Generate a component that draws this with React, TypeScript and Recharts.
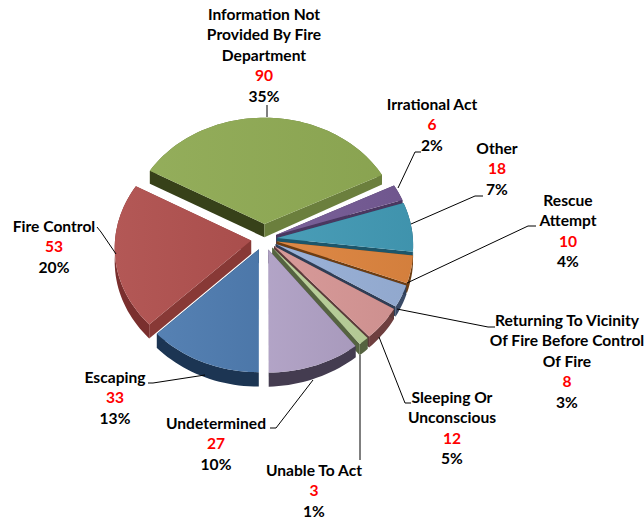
import { Pie, PieChart } from 'recharts';

const categories = [
  'Information Not Provided By Fire Department',
  'Irrational Act',
  'Other',
  'Rescue Attempt',
  'Returning To Vicinity Of Fire Before Control Of Fire',
  'Sleeping Or Unconscious',
  'Unable To Act',
  'Undetermined',
  'Escaping',
  'Fire Control',
];
const counts = [90, 6, 18, 10, 8, 12, 3, 27, 33, 53];
const percents = ['35%', '2%', '7%', '4%', '3%', '5%', '1%', '10%', '13%', '20%'];

const labelLines = [
  ['Information Not', 'Provided By Fire', 'Department'],
  ['Irrational Act'],
  ['Other'],
  ['Rescue', 'Attempt'],
  ['Returning To Vicinity', 'Of Fire Before Control', 'Of Fire'],
  ['Sleeping Or', 'Unconscious'],
  ['Unable To Act'],
  ['Undetermined'],
  ['Escaping'],
  ['Fire Control'],
];

const topColors = ['#8FAA54', '#745A94', '#4299B4', '#DC843F', '#97AFD6', '#D69695', '#BAD09A', '#AFA0C4', '#4F7CB0', '#B0514F'];
const startWallColors = ['#374119', '#4A3760', '#1D566A', '#6D3D12', '#2F3D55', '#5C3A3A', '#556340', '#443C50', '#1C3553', '#883936'];
const endWallColors = ['#6B7F3D', '#4A3760', '#1D566A', '#6D3D12', '#2F3D55', '#5C3A3A', '#556340', '#443C50', '#1C3553', '#883936'];
const outerWallColors = ['#6B7F3D', '#4A3760', '#1D566A', '#6D3D12', '#3A4A66', '#6E3F3F', '#556340', '#443C50', '#1C3553', '#7A2F2E'];
const explode = [18, 13, 13, 13, 13, 13, 13, 13, 13, 13];

// label block: centre x, first line y, then leader polyline
const labelX = [264, 432, 497, 568, 567, 452, 314, 216, 115, 54];
const labelY = [20, 110, 154, 206, 326, 403, 476, 429, 383, 232];
const leaders = [
  '267,105 267,117',
  '421,152 415,152 398,188',
  '483,196 475,196 411,224',
  '536,226 528,226 407,283',
  '495,327 488,327 397,309',
  '411,403 405,403 379,337',
  '360,460 360,355',
  '270,428 276,428 313,380',
  '148,383 153,383 205,375',
  '97,227 101,232 116,254',
];

const CX = 264;
const CY = 239;
const TILT = 0.845;
const PERSPECTIVE = 0.06;
const DEPTH = 13.5;

const tableData = categories.map((name, i) => ({ name, value: counts[i] }));

type Pt = [number, number];

function Slice3D(props: any) {
  const { cx, cy, outerRadius: r, startAngle, endAngle, index } = props;
  const RAD = Math.PI / 180;
  const mid = ((startAngle + endAngle) / 2) * RAD;
  const ox = Math.cos(mid) * explode[index];
  const oy = -Math.sin(mid) * explode[index];
  const project = (u: number, v: number, z: number): Pt => {
    const s = 1 + (PERSPECTIVE * (v + oy)) / r;
    // side walls get thinner towards the right of the pie
    const thin = 1 - (0.3 * Math.max(0, u + ox)) / r;
    return [cx + (u + ox) * s, cy + (v + oy) * TILT * s + z * s * thin];
  };
  const steps = Math.max(4, Math.ceil(Math.abs(endAngle - startAngle) / 2));
  const arc = (z: number) => {
    const pts: Pt[] = [];
    for (let i = 0; i <= steps; i++) {
      const a = (startAngle + ((endAngle - startAngle) * i) / steps) * RAD;
      pts.push(project(Math.cos(a) * r, -Math.sin(a) * r, z));
    }
    return pts;
  };
  const toPath = (pts: Pt[]) => 'M' + pts.map((p) => `${p[0].toFixed(1)},${p[1].toFixed(1)}`).join('L') + 'Z';
  const top = arc(0);
  const bottom = arc(DEPTH);
  const apex = project(0, 0, 0);
  const apexLow = project(0, 0, DEPTH);
  const sheen = `sheen-${index}`;
  return (
    <g>
      <defs>
        <linearGradient id={sheen} x1="0" y1="0" x2="1" y2="0">
          <stop offset="0" stopColor="#fff" stopOpacity={0.04} />
          <stop offset="1" stopColor="#000" stopOpacity={0.04} />
        </linearGradient>
      </defs>
      <path d={toPath([...top, ...[...bottom].reverse()])} fill={outerWallColors[index]} />
      <path d={toPath([apex, top[0], bottom[0], apexLow])} fill={startWallColors[index]} />
      <path d={toPath([apex, top[steps], bottom[steps], apexLow])} fill={endWallColors[index]} />
      <path d={toPath([apex, ...top])} fill={topColors[index]} />
      <path d={toPath([apex, ...top])} fill={`url(#${sheen})`} />
    </g>
  );
}

function SliceLabel(props: any) {
  const { index } = props;
  const lines = labelLines[index];
  const y0 = labelY[index];
  const x = labelX[index];
  const step = 20.4;
  return (
    <g style={{ fontFamily: 'Lato', fontSize: 15.6, fontWeight: 700 }}>
      <polyline points={leaders[index]} fill="none" stroke="#000" strokeWidth={1} />
      {lines.map((line, i) => (
        <text key={line} x={x} y={y0 + i * step} textAnchor="middle" fill="#000">
          {line}
        </text>
      ))}
      <text x={x} y={y0 + lines.length * step} textAnchor="middle" fill="#FF0000">
        {counts[index]}
      </text>
      <text x={x} y={y0 + (lines.length + 1) * step} textAnchor="middle" fill="#000">
        {percents[index]}
      </text>
    </g>
  );
}

export default function App() {
  return (
    <div style={{ position: 'absolute', left: 0, top: 0, width: 644, height: 523, background: '#fff' }}>
      <PieChart width={644} height={523} margin={{ top: 0, right: 0, bottom: 0, left: 0 }}>
        <Pie
          data={tableData}
          dataKey="value"
          nameKey="name"
          cx={CX}
          cy={CY}
          outerRadius={136}
          startAngle={151}
          endAngle={-209}
          isAnimationActive={false}
          shape={Slice3D}
          label={SliceLabel}
          labelLine={false}
        />
      </PieChart>
    </div>
  );
}
